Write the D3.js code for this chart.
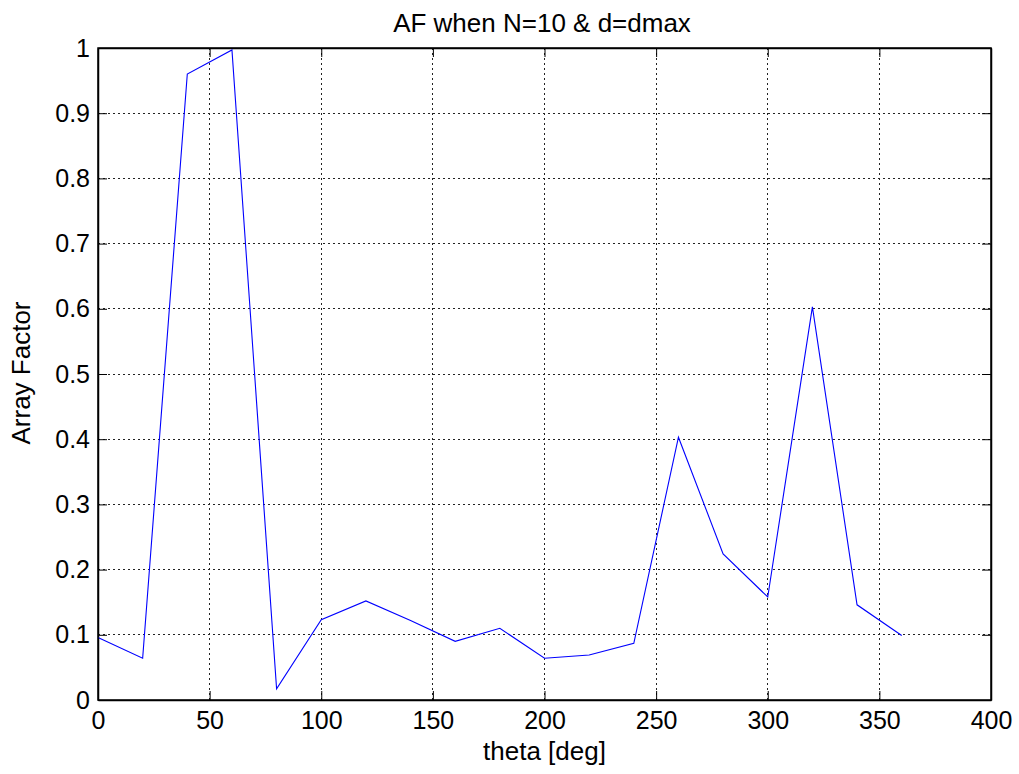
<!DOCTYPE html>
<html>
<head>
<meta charset="utf-8">
<script src="https://cdn.jsdelivr.net/npm/d3@7"></script>
<style>
  html, body { margin: 0; padding: 0; background: #fff; }
  svg { display: block; font-family: "Liberation Sans", Arial, sans-serif; }
</style>
</head>
<body>
<svg id="chart" width="1019" height="774"></svg>
<script>
// Array factor sampled every 20 degrees
const thetaDeg = [0, 20, 40, 60, 80, 100, 120, 140, 160, 180, 200, 220, 240, 260, 280, 300, 320, 340, 360];
const arrayFactor = [0.096, 0.064, 0.960, 0.997, 0.017, 0.123, 0.152, 0.122, 0.090, 0.110, 0.064, 0.069, 0.087, 0.403, 0.224, 0.158, 0.603, 0.146, 0.099];
const xTicks = [0, 50, 100, 150, 200, 250, 300, 350, 400];
const yTicks = [0, 0.1, 0.2, 0.3, 0.4, 0.5, 0.6, 0.7, 0.8, 0.9, 1];

const svg = d3.select("#chart");
const plotL = 98, plotR = 991, plotT = 48, plotB = 700;

const x = d3.scaleLinear().domain([0, 400]).range([plotL, plotR]);
const y = d3.scaleLinear().domain([0, 1]).range([plotB, plotT]);

// dotted grid
const grid = svg.append("g").attr("stroke", "#222").attr("stroke-width", 1)
  .attr("stroke-dasharray", "2,3").attr("shape-rendering", "crispEdges");
xTicks.slice(1, -1).forEach(t => {
  grid.append("line").attr("x1", x(t)).attr("x2", x(t)).attr("y1", plotT).attr("y2", plotB);
});
yTicks.slice(1, -1).forEach(t => {
  grid.append("line").attr("x1", plotL).attr("x2", plotR).attr("y1", y(t)).attr("y2", y(t));
});

// axes with inward ticks on all four sides
const tickLen = 9;
const axFont = "25px";
const xb = svg.append("g").attr("transform", `translate(0,${plotB})`)
  .call(d3.axisBottom(x).tickValues(xTicks).tickSizeInner(-tickLen).tickSizeOuter(0).tickPadding(11).tickFormat(d3.format("d")));
const xt = svg.append("g").attr("transform", `translate(0,${plotT})`)
  .call(d3.axisTop(x).tickValues(xTicks).tickSizeInner(-tickLen).tickSizeOuter(0).tickFormat(""));
const yl = svg.append("g").attr("transform", `translate(${plotL},0)`)
  .call(d3.axisLeft(y).tickValues(yTicks).tickSizeInner(-tickLen).tickSizeOuter(0).tickPadding(8).tickFormat(d => String(+d.toFixed(1))));
const yr = svg.append("g").attr("transform", `translate(${plotR},0)`)
  .call(d3.axisRight(y).tickValues(yTicks).tickSizeInner(-tickLen).tickSizeOuter(0).tickFormat(""));

[xb, xt, yl, yr].forEach(g => {
  g.selectAll("path").attr("stroke", "#000").attr("stroke-width", 1.5);
  g.selectAll("line").attr("stroke", "#000").attr("stroke-width", 1);
  g.selectAll("text").attr("fill", "#000").style("font-size", axFont)
    .style("font-family", "'Liberation Sans', Arial, sans-serif");
});

// data line
const line = d3.line().x((d, i) => x(thetaDeg[i])).y(d => y(d));
svg.append("path").datum(arrayFactor)
  .attr("d", line).attr("fill", "none").attr("stroke", "#0000ff").attr("stroke-width", 1.1);

// frame
svg.append("rect").attr("x", plotL).attr("y", plotT).attr("width", plotR - plotL).attr("height", plotB - plotT)
  .attr("fill", "none").attr("stroke", "#000").attr("stroke-width", 1.5);

// titles
svg.append("text").attr("x", 542).attr("y", 32).attr("text-anchor", "middle")
  .style("font-size", "26px").text("AF when N=10 & d=dmax");
svg.append("text").attr("x", (plotL + plotR) / 2).attr("y", 760).attr("text-anchor", "middle")
  .style("font-size", "26px").text("theta [deg]");
svg.append("text").attr("transform", `translate(30,373) rotate(-90)`)
  .attr("text-anchor", "middle").style("font-size", "26px").text("Array Factor");
</script>
</body>
</html>
